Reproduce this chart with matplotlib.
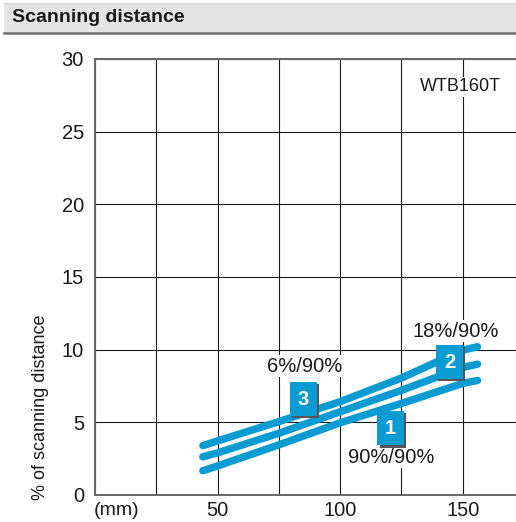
import matplotlib
matplotlib.use('Agg')
import matplotlib.pyplot as plt
import matplotlib.patheffects as pe
from matplotlib.patches import Rectangle

plt.rcParams['font.family'] = ['Liberation Sans', 'DejaVu Sans']

# curve data (x in mm, y in % of scanning distance)
dist_mm = [44, 50, 75, 100, 125, 150, 156]
curve_6_90 = [3.40, 3.72, 5.05, 6.42, 8.05, 9.97, 10.20]
curve_18_90 = [2.63, 2.90, 4.25, 5.73, 7.20, 8.78, 9.00]
curve_90_90 = [1.67, 2.00, 3.45, 4.97, 6.30, 7.68, 7.88]

x_ticks = [50, 100, 150]
y_ticks = [0, 5, 10, 15, 20, 25, 30]

blue = '#0a9bd2'

fig = plt.figure(figsize=(5.16, 5.22), dpi=100)

# header band
fig.patches.append(Rectangle((4 / 516, 1 - 33 / 522), 1, 30 / 522, transform=fig.transFigure,
                             facecolor='#e4e4e4', edgecolor='none', zorder=0))
fig.lines.append(plt.Line2D([4 / 516, 1], [1 - 32.5 / 522] * 2, transform=fig.transFigure,
                            color='#707070', lw=1.8))
fig.lines.append(plt.Line2D([4 / 516, 1], [1 - 2.5 / 522] * 2, transform=fig.transFigure,
                            color='#d4d4d4', lw=0.8))
fig.text(12 / 516, 1 - 18 / 522, 'Scanning distance', fontsize=14, fontweight='bold',
         color='#1a1a1a', va='center', ha='left')

ax = fig.add_axes([95 / 516, 27 / 522, 429 / 516, 436 / 522])
ax.set_xlim(0, 175)
ax.set_ylim(0, 30)

ax.set_xticks(range(0, 176, 25), minor=False)
ax.set_xticklabels(['' if v not in x_ticks else str(v) for v in range(0, 176, 25)])
ax.set_yticks(y_ticks)
ax.tick_params(length=0, labelsize=14.5, colors='#1a1a1a')
ax.tick_params(axis='x', pad=4)
ax.tick_params(axis='y', pad=8)
ax.grid(True, color='#1a1a1a', lw=0.8)
ax.set_axisbelow(True)
for side in ['left', 'bottom', 'top']:
    ax.spines[side].set_color('#666666')
    ax.spines[side].set_linewidth(1.4)
ax.spines['right'].set_visible(False)

for ys in [curve_6_90, curve_18_90, curve_90_90]:
    ax.plot(dist_mm, ys, color=blue, lw=5.4, solid_capstyle='round', zorder=3)

txt_kw = dict(fontsize=13, color='#1a1a1a', ha='center', va='center', zorder=5,
              bbox=dict(facecolor='white', edgecolor='none', pad=1))
ax.text(148.9, 28.08, 'WTB160T', **txt_kw)
pct_kw = dict(txt_kw, fontsize=14.5)
ax.text(85.5, 8.87, '6%/90%', **pct_kw)
ax.text(147.2, 11.28, '18%/90%', **pct_kw)
ax.text(120.7, 2.61, '90%/90%', **pct_kw)

# numbered boxes with a grey drop shadow
for num, bx, by in [('3', 85.0, 6.6), ('2', 144.6, 9.15), ('1', 120.6, 4.6)]:
    t = ax.text(bx, by, num, fontsize=14.5, fontweight='bold', color='white', ha='center',
                va='center', zorder=6,
                bbox=dict(boxstyle='square,pad=0.38', facecolor=blue, edgecolor='none'))
    t.get_bbox_patch().set_path_effects([
        pe.SimplePatchShadow(offset=(1.6, -1.6), shadow_rgbFace='#555555', alpha=1.0),
        pe.Normal()])

fig.text(41 / 516, 1 - 407 / 522, '% of scanning distance', rotation=90, fontsize=13,
         color='#1a1a1a', ha='center', va='center')
ax.text(8.7, -0.5, '(mm)', fontsize=14, color='#1a1a1a', ha='center', va='top',
        clip_on=False)

fig.savefig('out.png', dpi=100)
